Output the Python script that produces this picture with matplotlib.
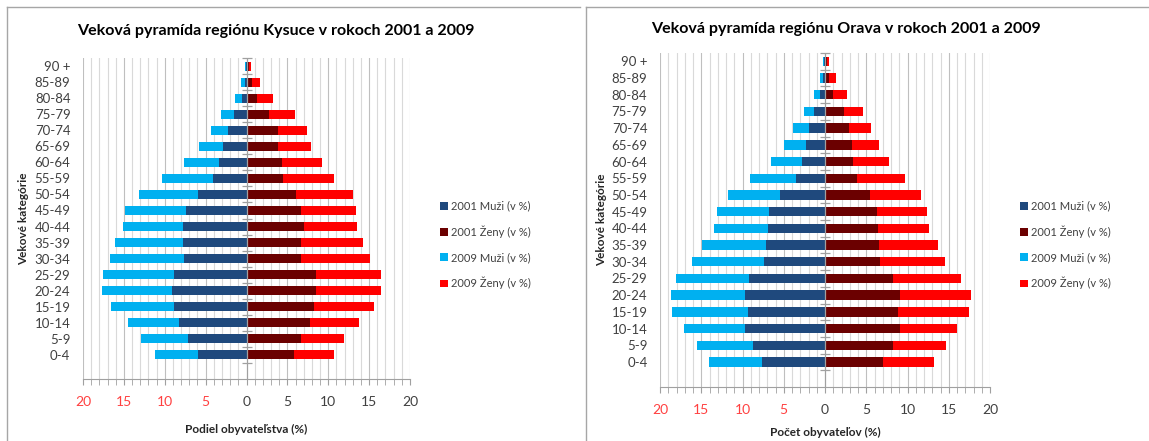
import matplotlib
matplotlib.use('Agg')
import matplotlib.pyplot as plt
from matplotlib.lines import Line2D
from matplotlib.ticker import MultipleLocator, FuncFormatter
import numpy as np

plt.rcParams['font.family'] = ['Lato', 'DejaVu Sans']

categories = ['0-4', '5-9', '10-14', '15-19', '20-24', '25-29', '30-34', '35-39',
              '40-44', '45-49', '50-54', '55-59', '60-64', '65-69', '70-74',
              '75-79', '80-84', '85-89', '90 +']

# Kysuce - stacked segments as plotted (2009 segment sits on top of 2001)
kys_muzi_2001 = [5.95, 7.2, 8.3, 8.85, 9.15, 8.85, 7.65, 7.8, 7.8, 7.4, 5.9, 4.15,
                 3.4, 2.85, 2.3, 1.5, 0.5, 0.2, 0.1]
kys_muzi_2009 = [5.3, 5.65, 6.25, 7.75, 8.55, 8.75, 9.05, 8.25, 7.3, 7.5, 7.2, 6.2,
                 4.2, 2.95, 2.1, 1.6, 0.85, 0.45, 0.1]
kys_zeny_2001 = [5.85, 6.7, 7.8, 8.25, 8.55, 8.45, 6.7, 6.7, 7.05, 6.65, 6.0, 4.5,
                 4.3, 3.9, 3.9, 2.77, 1.26, 0.7, 0.35]
kys_zeny_2009 = [4.85, 5.2, 6.0, 7.4, 7.9, 7.95, 8.4, 7.5, 6.45, 6.75, 6.97, 6.2,
                 4.9, 3.93, 3.5, 3.13, 2.0, 0.97, 0.25]

# Orava
ora_muzi_2001 = [7.6, 8.77, 9.65, 9.3, 9.65, 9.2, 7.35, 7.15, 6.87, 6.75, 5.4, 3.55,
                 2.83, 2.3, 2.0, 1.3, 0.6, 0.28, 0.16]
ora_muzi_2009 = [6.45, 6.73, 7.45, 9.2, 9.0, 8.85, 8.8, 7.75, 6.63, 6.35, 6.4, 5.5,
                 3.77, 2.7, 1.9, 1.3, 0.73, 0.32, 0.06]
ora_zeny_2001 = [7.03, 8.3, 9.05, 8.85, 9.05, 8.25, 6.65, 6.5, 6.4, 6.3, 5.5, 3.9,
                 3.43, 3.23, 2.9, 2.3, 1.0, 0.5, 0.2]
ora_zeny_2009 = [6.17, 6.4, 7.0, 8.65, 8.6, 8.2, 7.95, 7.2, 6.2, 6.1, 6.1, 5.75,
                 4.37, 3.37, 2.7, 2.35, 1.7, 0.8, 0.25]

c_m01 = '#1F497D'
c_z01 = '#6B0000'
c_m09 = '#00B0F0'
c_z09 = '#FF0000'
txt = '#404040'

fig = plt.figure(figsize=(11.49, 4.41), dpi=100)


def px(x0, y0, x1, y1):
    W, H = 1149, 441
    return [x0 / W, 1 - y1 / H, (x1 - x0) / W, (y1 - y0) / H]


def pyramid(ax, m01, m09, z01, z09, title, xlabel, tx, ty, legx, legy, ylab_x, xlab_y):
    y = np.arange(len(categories))
    m01 = np.array(m01)
    z01 = np.array(z01)
    h = 0.56
    ax.barh(y, -m01, height=h, color=c_m01, label='2001 Muži (v %)', zorder=3)
    ax.barh(y, z01, height=h, color=c_z01, label='2001 Ženy (v %)', zorder=3)
    ax.barh(y, -np.array(m09), left=-m01, height=h, color=c_m09,
            label='2009 Muži (v %)', zorder=3)
    ax.barh(y, z09, left=z01, height=h, color=c_z09, label='2009 Ženy (v %)', zorder=3)

    ax.set_xlim(-20, 20)
    ax.set_ylim(-1.5, 18.5)
    for v in range(-20, 21):
        if v == 0:
            continue
        col = '#BFBFBF' if v % 5 == 0 else '#D9D9D9'
        ax.axvline(v, color=col, lw=0.8, zorder=1)
    ax.axvline(0, color='#A0A0A0', lw=0.9, zorder=4)
    bounds = np.arange(-1, len(categories)) + 0.5
    ax.plot(np.zeros(len(bounds)), bounds, ls='none', marker='_', ms=7,
            mew=0.9, color='#A0A0A0', zorder=4, clip_on=False)

    for s in ['top', 'right', 'left']:
        ax.spines[s].set_visible(False)
    ax.spines['bottom'].set_color('#A0A0A0')
    ax.xaxis.set_major_locator(MultipleLocator(5))
    ax.xaxis.set_minor_locator(MultipleLocator(1))
    ax.xaxis.set_major_formatter(FuncFormatter(lambda v, p: '%d' % abs(v)))
    ax.tick_params(axis='x', which='both', color='#A0A0A0', length=4, labelsize=10,
                   labelcolor=txt, pad=8)
    for lab, v in zip(ax.get_xticklabels(), ax.get_xticks()):
        if v < 0:
            lab.set_color('#FF4040')
    ax.set_yticks(y)
    ax.set_yticklabels(categories)
    ax.tick_params(axis='y', length=0, labelsize=9.5, labelcolor=txt, pad=9)
    ax.set_xlabel(xlabel, fontsize=8.5, fontweight='bold', color='#262626')
    ax.set_ylabel('Vekové kategórie', fontsize=8.5, fontweight='bold', color='#262626')
    ax.yaxis.set_label_coords(ylab_x, 0.5)
    ax.xaxis.set_label_coords(0.5, xlab_y)
    fig.text(tx / 1149, 1 - ty / 441, title, fontsize=11.5, fontweight='bold',
             ha='center', va='center', color='black')
    handles, labels = ax.get_legend_handles_labels()
    ax.legend(handles, labels,
              loc='center left', bbox_to_anchor=(legx / 1149, 1 - legy / 441),
              bbox_transform=fig.transFigure, frameon=False, fontsize=8,
              handlelength=0.7, handleheight=0.7, handletextpad=0.3,
              labelspacing=1.25, labelcolor=txt)


ax1 = fig.add_axes(px(83, 58, 410, 379))
pyramid(ax1, kys_muzi_2001, kys_muzi_2009, kys_zeny_2001, kys_zeny_2009,
        'Veková pyramída regiónu Kysuce v rokoch 2001 a 2009',
        'Podiel obyvateľstva (%)', 276, 31, 430, 245, -0.165, -0.14)

ax2 = fig.add_axes(px(660, 53, 990, 387))
pyramid(ax2, ora_muzi_2001, ora_muzi_2009, ora_zeny_2001, ora_zeny_2009,
        'Veková pyramída regiónu Orava v rokoch 2001 a 2009',
        'Počet obyvateľov (%)', 846, 29, 1010, 245, -0.16, -0.12)

# panel frames
W, H = 1149, 441
frame = '#A6A6A6'
fig.add_artist(Line2D([7 / W, 580 / W], [1 - 7 / H, 1 - 7 / H], color=frame, lw=1))
fig.add_artist(Line2D([7 / W, 7 / W], [0, 1 - 7 / H], color=frame, lw=1))
fig.add_artist(Line2D([586 / W, 1], [1 - 7 / H, 1 - 7 / H], color=frame, lw=1))
fig.add_artist(Line2D([586 / W, 586 / W], [0, 1 - 7 / H], color=frame, lw=1))

fig.savefig('out.png', dpi=100)
